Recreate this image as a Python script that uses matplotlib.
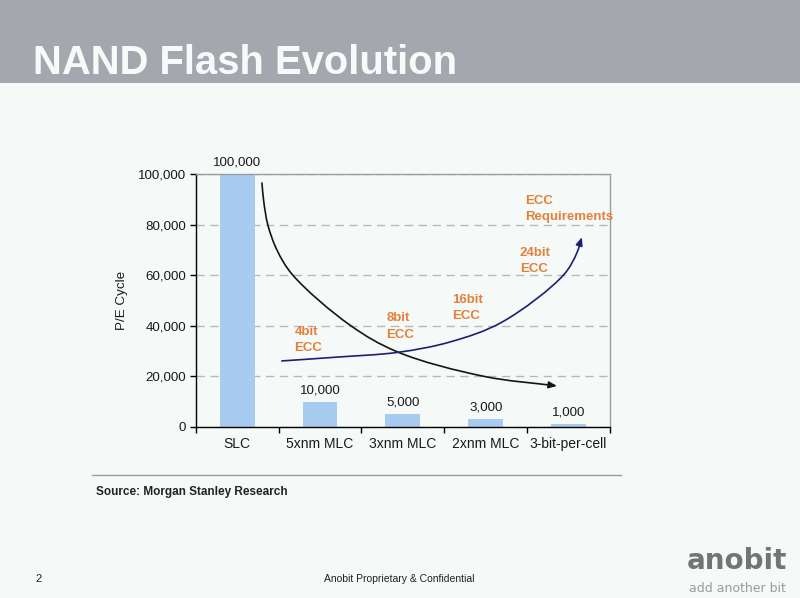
import matplotlib
matplotlib.use('Agg')
import matplotlib.pyplot as plt
import numpy as np
from matplotlib.path import Path
from matplotlib.patches import FancyArrowPatch, Rectangle
from matplotlib.lines import Line2D
from matplotlib.ticker import FuncFormatter, FixedLocator

# ---------------- data ----------------
categories = ['SLC', '5xnm MLC', '3xnm MLC', '2xnm MLC', '3-bit-per-cell']
pe_cycles = [100000, 10000, 5000, 3000, 1000]
bar_labels = ['100,000', '10,000', '5,000', '3,000', '1,000']
y_ticks = [0, 20000, 40000, 60000, 80000, 100000]

# guide points of the two annotation arrows (data units)
endurance_curve_x = [0.30, 0.32, 0.37, 0.48, 0.67, 1.36, 1.94, 2.98, 3.86]
endurance_curve_y = [96400, 89500, 80000, 70000, 60100, 40300, 29600, 20000, 16200]
ecc_curve_x = [0.54, 1.20, 1.94, 2.57, 3.20, 3.94, 4.10, 4.16]
ecc_curve_y = [26100, 27600, 29500, 33600, 41500, 60100, 68800, 75000]

ecc_labels = ['4bit\nECC', '8bit\nECC', '16bit\nECC', '24bit\nECC', 'ECC\nRequirements']
ecc_label_x = [0.69, 1.80, 2.60, 3.41, 3.47]
ecc_label_y = [34400, 39800, 47100, 65500, 86200]

title = 'NAND Flash Evolution'
source_text = 'Source: Morgan Stanley Research'
footer_text = 'Anobit Proprietary & Confidential'
page_number = '2'

# ---------------- style ----------------
plt.rcParams['font.family'] = ['Liberation Sans', 'DejaVu Sans']
BG = '#F5FAF8'
BAR = '#A8CCF0'
ORANGE = '#E4803A'
NAVY = '#1E1E78'
TXT = '#1A1A1A'

fig = plt.figure(figsize=(8, 5.98), dpi=100, facecolor=BG)

# header band
fig.patches.append(Rectangle((0, 0.8612), 1, 0.1388, transform=fig.transFigure,
                             facecolor='#A5A6AE', edgecolor='none', zorder=0))
fig.text(33 / 800, (598 - 74.3) / 598, title, fontsize=28.8, fontweight='bold',
         color='#F7FAF9', ha='left', va='baseline')

ax = fig.add_axes([0.2446, 0.2860, 0.5179, 0.4231], facecolor=BG)
x = np.arange(len(categories))
bars = ax.bar(x, pe_cycles, width=0.42, color=BAR, zorder=2)
ax.bar_label(bars, labels=bar_labels, padding=4, fontsize=9.6, color=TXT)

ax.set_xlim(-0.5, len(categories) - 0.5)
ax.set_ylim(0, 100000)
ax.set_yticks(y_ticks)
ax.yaxis.set_major_formatter(FuncFormatter(lambda v, p: f'{int(v):,}'))
ax.set_xticks(x)
ax.set_xticklabels(categories)
ax.xaxis.set_minor_locator(FixedLocator(np.arange(len(categories) + 1) - 0.5))
ax.tick_params(axis='x', which='major', length=0, pad=7.5, labelsize=10, labelcolor=TXT)
ax.tick_params(axis='x', which='minor', length=4, width=1, color='black', direction='out')
ax.tick_params(axis='y', length=4, width=1, color='black', direction='out', pad=3,
               labelsize=9.6, labelcolor=TXT)

ax.yaxis.grid(True, linestyle=(0, (6, 4)), color='#B8B8B8', lw=1)
ax.set_axisbelow(True)
for s in ['top', 'right']:
    ax.spines[s].set_color('#9C9C9C')
    ax.spines[s].set_linewidth(1)
for s in ['left', 'bottom']:
    ax.spines[s].set_color('black')
    ax.spines[s].set_linewidth(1)

ax.set_ylabel('P/E Cycle', fontsize=9.6, color=TXT)
ax.yaxis.set_label_coords(-0.163, 0.5)


def smooth_path(xs, ys, sx=82.86, sy=0.00253, alpha=0.5):
    """Centripetal Catmull-Rom through the guide points, as cubic Bezier segments."""
    pts = np.column_stack([np.asarray(xs) * sx, np.asarray(ys) * sy]).astype(float)
    ext = np.vstack([2 * pts[0] - pts[1], pts, 2 * pts[-1] - pts[-2]])
    verts = [pts[0]]
    codes = [Path.MOVETO]
    for i in range(1, len(ext) - 2):
        p0, p1, p2, p3 = ext[i - 1], ext[i], ext[i + 1], ext[i + 2]
        d0 = np.linalg.norm(p1 - p0) ** alpha
        d1 = np.linalg.norm(p2 - p1) ** alpha
        d2 = np.linalg.norm(p3 - p2) ** alpha
        m1 = ((p1 - p0) / d0 - (p2 - p0) / (d0 + d1) + (p2 - p1) / d1) * d1
        m2 = ((p2 - p1) / d1 - (p3 - p1) / (d1 + d2) + (p3 - p2) / d2) * d1
        verts += [p1 + m1 / 3, p2 - m2 / 3, p2]
        codes += [Path.CURVE4] * 3
    verts = np.array(verts) / np.array([sx, sy])
    return Path(verts, codes)


for cx, cy, col in [(endurance_curve_x, endurance_curve_y, '#151515'),
                    (ecc_curve_x, ecc_curve_y, NAVY)]:
    arr = FancyArrowPatch(path=smooth_path(cx, cy),
                          arrowstyle='-|>,head_length=0.6,head_width=0.25',
                          mutation_scale=8, color=col, lw=1.2,
                          transform=ax.transData, zorder=4)
    ax.add_patch(arr)

for lab, lx, ly in zip(ecc_labels, ecc_label_x, ecc_label_y):
    ax.text(lx, ly, lab, color=ORANGE, fontsize=9.5, fontweight='bold',
            ha='left', va='center', linespacing=1.5, zorder=5)

# source line & text
fig.add_artist(Line2D([92 / 800, 621 / 800], [0.205, 0.205], color='#9A9A9A', lw=1,
                      transform=fig.transFigure))
fig.text(96 / 800, (598 - 492) / 598, source_text, fontsize=8.5, fontweight='bold',
         color='#222222', ha='left', va='center')

# footer
fig.text(39 / 800, (598 - 579) / 598, page_number, fontsize=8, color='#222222',
         ha='center', va='center')
fig.text(0.4994, (598 - 579) / 598, footer_text, fontsize=7.5, color='#222222',
         ha='center', va='center')
fig.text(787 / 800, (598 - 569) / 598, 'anobit', family='DejaVu Sans', fontsize=20,
         fontweight='bold', color='#747474', ha='right', va='baseline')
fig.text(786 / 800, (598 - 589) / 598, 'add another bit', family='DejaVu Sans',
         fontsize=9, color='#9A9A9A', ha='right', va='center')

fig.savefig('out.png', dpi=100, facecolor=BG)
